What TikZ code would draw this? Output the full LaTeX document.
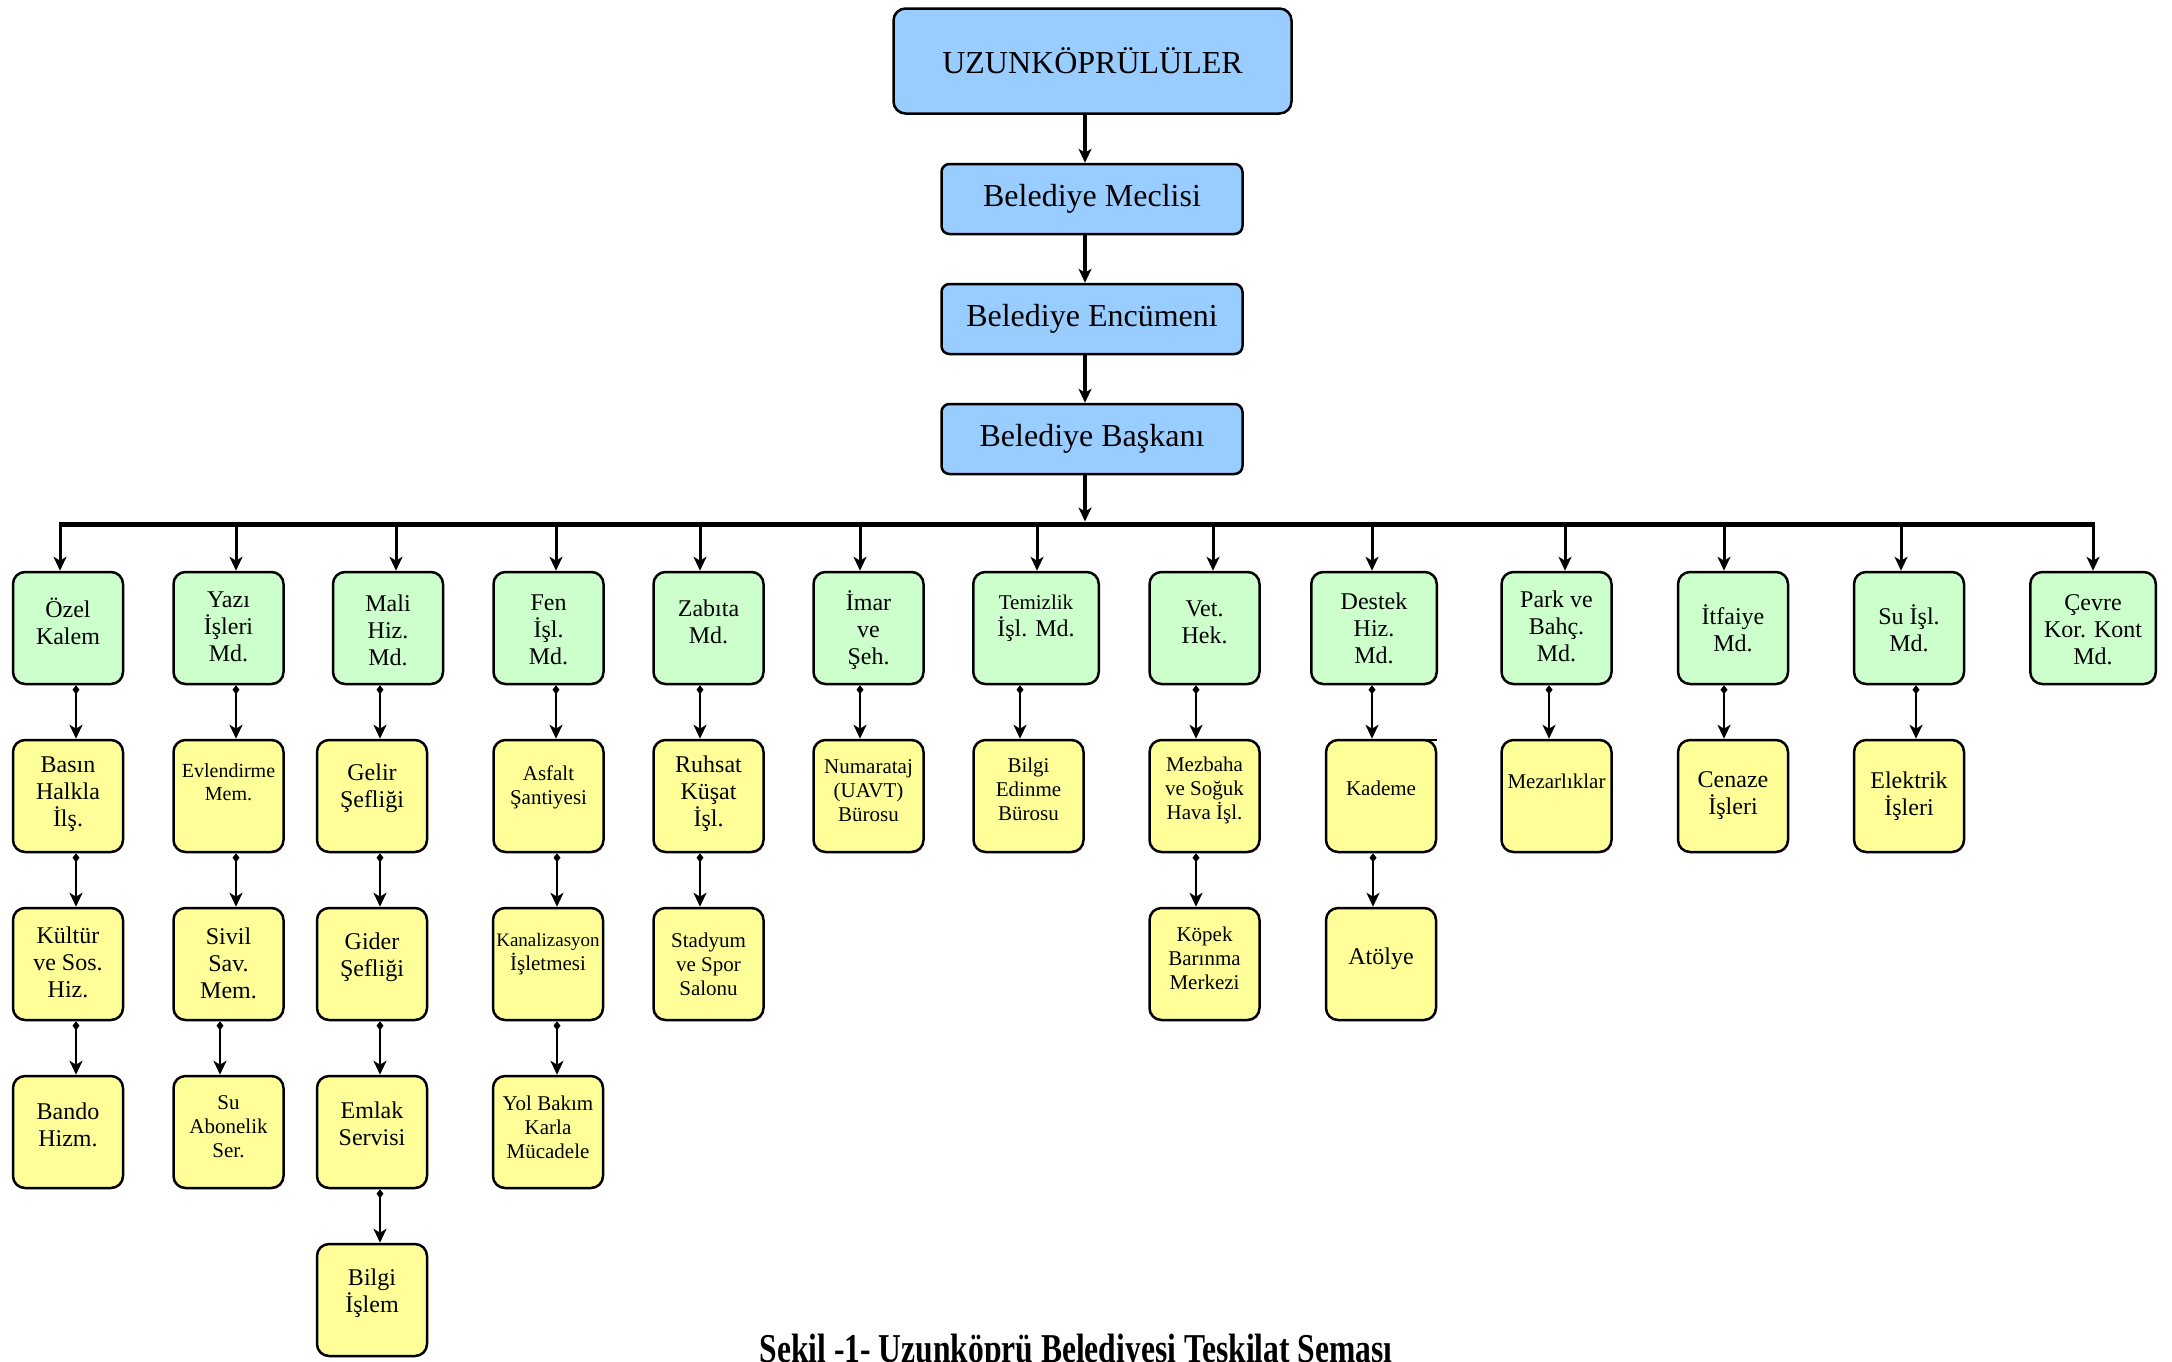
\documentclass[tikz,border=0pt]{standalone}
\usepackage{fontspec}
\setmainfont{Liberation Serif}
\newfontfamily\capfont[FakeStretch=0.77]{Liberation Serif}
\usetikzlibrary{arrows.meta}
\definecolor{bcol}{RGB}{153,204,255}
\definecolor{gcol}{RGB}{204,255,204}
\definecolor{ycol}{RGB}{255,255,153}
\newcommand\fsA{\fontsize{12}{13.5}\selectfont}
\newcommand\fsB{\fontsize{10.5}{12}\selectfont}
\newcommand\fsC{\fontsize{10}{11.5}\selectfont}
\newcommand\fsD{\fontsize{9.5}{12.5}\selectfont}
\newcommand\fsT{\fontsize{16}{19}\selectfont}
\newcommand\ob[6]{\node[#1] (#2) at (#3) {}; \node[lbl,font=#5] (#2t) at ([yshift=#4pt]#2.center) {#6};}
\begin{document}
\begin{tikzpicture}[x=0.5pt,y=-0.5pt,
  box/.style={draw=black, line width=1.25pt, rounded corners=6pt, minimum width=55pt, minimum height=56pt, inner sep=0pt},
  grn/.style={box, fill=gcol},
  yel/.style={box, fill=ycol},
  wgrn/.style={grn, minimum width=62.75pt},
  blu/.style={draw=black, line width=1.25pt, fill=bcol, rounded corners=4pt, minimum width=150.5pt, minimum height=35pt, inner sep=0pt},
  ttl/.style={blu, rounded corners=6pt, minimum width=199pt, minimum height=52.5pt},
  lbl/.style={align=center, inner sep=0pt},
  barln/.style={line width=2.5pt},
  br/.style={line width=1.5pt, -{Stealth[length=7pt,width=6.5pt,inset=2pt]}},
  mn/.style={line width=1.6pt, -{Stealth[length=7pt,width=6.5pt,inset=2pt]}},
  sub/.style={line width=1.4pt, {Diamond[length=4.5pt,width=3.5pt,line width=0pt]}-{Stealth[length=7pt,width=6.5pt,inset=2pt]}}
]
\useasboundingbox (0,0) rectangle (2172,1361);

% top chain
\ob{ttl}{uzun}{1092.5,61}{0}{\fsT}{UZUNKÖPRÜLÜLER}
\ob{blu}{meclis}{1092,199}{0}{\fsT}{Belediye Meclisi}
\ob{blu}{encumen}{1092,319}{0}{\fsT}{Belediye Encümeni}
\ob{blu}{baskan}{1092,439}{0}{\fsT}{Belediye Başkanı}

\coordinate (km) at (1085,524);
\draw[mn] (uzun.south -| km) -- (meclis.north -| km);
\draw[mn] (meclis.south -| km) -- (encumen.north -| km);
\draw[mn] (encumen.south -| km) -- (baskan.north -| km);
\draw[mn] (baskan.south -| km) -- ([yshift=1.25pt]km);

% level 1
\ob{grn}{ozel}{68,628}{3.5}{\fsA}{Özel\\Kalem}
\ob{grn}{yazi}{228.5,628}{0.5}{\fsA}{Yazı\\İşleri\\Md.}
\ob{grn}{mali}{388,628}{-1}{\fsA}{Mali\\Hiz.\\Md.}
\ob{grn}{fen}{548.5,628}{-1}{\fsA}{Fen\\İşl.\\Md.}
\ob{grn}{zabita}{708.5,628}{3}{\fsA}{Zabıta\\Md.}
\ob{grn}{imar}{868.5,628}{-1}{\fsA}{İmar\\ve\\Şeh.}
\ob{wgrn}{temiz}{1036,628}{5}{\fsA}{{\fsB Temizlik}\\İşl. Md.}
\ob{grn}{vet}{1204.5,628}{3}{\fsA}{Vet.\\Hek.}
\ob{wgrn}{destek}{1374,628}{0}{\fsA}{Destek\\Hiz.\\Md.}
\ob{grn}{park}{1556.5,628}{1}{\fsA}{Park ve\\Bahç.\\Md.}
\ob{grn}{itfaiye}{1733,628}{0}{\fsA}{İtfaiye\\Md.}
\ob{grn}{suisl}{1909,628}{0}{\fsA}{Su İşl.\\Md.}
\ob{wgrn}{cevre}{2093,628}{-1}{\fsA}{Çevre\\Kor. Kont\\Md.}

% level 2
\ob{yel}{basin}{68,796}{1}{\fsA}{Basın\\Halkla\\İlş.}
\ob{yel}{evlen}{228.5,796}{7}{\fsC}{Evlendirme\\Mem.}
\ob{yel}{gelir}{372,796}{4}{\fsA}{Gelir\\Şefliği}
\ob{yel}{asfalt}{548.5,796}{4.5}{\fsB}{Asfalt\\Şantiyesi}
\ob{yel}{ruhsat}{708.5,796}{1}{\fsA}{Ruhsat\\Küşat\\İşl.}
\ob{yel}{numara}{868.5,796}{2.5}{\fsB}{Numarataj\\(UAVT)\\Bürosu}
\ob{yel}{bilgied}{1028.5,796}{3.5}{\fsB}{Bilgi\\Edinme\\Bürosu}
\ob{yel}{mezbaha}{1204.5,796}{3}{\fsB}{Mezbaha\\ve Soğuk\\Hava İşl.}
\ob{yel}{kademe}{1381,796}{4}{\fsB}{Kademe}
\ob{yel}{mezar}{1556.5,796}{7.5}{\fsB}{Mezarlıklar}
\ob{yel}{cenaze}{1733,796}{0}{\fsA}{Cenaze\\İşleri}
\ob{yel}{elektrik}{1909,796}{0}{\fsA}{Elektrik\\İşleri}
\draw[line width=1.25pt] ([xshift=3.5pt,yshift=-0.625pt]kademe.north) -- ([yshift=-0.625pt]kademe.north east);

% level 3
\ob{yel}{kultur}{68,964}{1}{\fsA}{Kültür\\ve Sos.\\Hiz.}
\ob{yel}{sivil}{228.5,964}{0.5}{\fsA}{Sivil\\Sav.\\Mem.}
\ob{yel}{gider}{372,964}{3.5}{\fsA}{Gider\\Şefliği}
\ob{yel}{kanal}{548,964}{5}{\fsB}{{\fsD Kanalizasyon}\\İşletmesi}
\ob{yel}{stadyum}{708.5,964}{0}{\fsB}{Stadyum\\ve Spor\\Salonu}
\ob{yel}{kopek}{1204.5,964}{3}{\fsB}{Köpek\\Barınma\\Merkezi}
\ob{yel}{atolye}{1381,964}{2.5}{\fsA}{Atölye}

% level 4
\ob{yel}{bando}{68,1132}{3.5}{\fsA}{Bando\\Hizm.}
\ob{yel}{suabone}{228.5,1132}{2.5}{\fsB}{Su\\Abonelik\\Ser.}
\ob{yel}{emlak}{372,1132}{4}{\fsA}{Emlak\\Servisi}
\ob{yel}{yol}{548,1132}{2.5}{\fsB}{Yol Bakım\\Karla\\Mücadele}

% level 5
\ob{yel}{bilgiis}{372,1300}{3.5}{\fsA}{Bilgi\\İşlem}

% bar and branches
\coordinate (k1) at (60,524);
\coordinate (k2) at (236,524);
\coordinate (k3) at (396,524);
\coordinate (k4) at (556,524);
\coordinate (k5) at (700,524);
\coordinate (k6) at (860,524);
\coordinate (k7) at (1037,524);
\coordinate (k8) at (1213,524);
\coordinate (k9) at (1372,524);
\coordinate (k10) at (1565,524);
\coordinate (k11) at (1724,524);
\coordinate (k12) at (1901,524);
\coordinate (k13) at (2093,524);
\draw[barln] ([xshift=-0.75pt]k1) -- ([xshift=0.75pt]k13);
\draw[br] (k1) -- (k1 |- ozel.north);
\draw[br] (k2) -- (k2 |- yazi.north);
\draw[br] (k3) -- (k3 |- mali.north);
\draw[br] (k4) -- (k4 |- fen.north);
\draw[br] (k5) -- (k5 |- zabita.north);
\draw[br] (k6) -- (k6 |- imar.north);
\draw[br] (k7) -- (k7 |- temiz.north);
\draw[br] (k8) -- (k8 |- vet.north);
\draw[br] (k9) -- (k9 |- destek.north);
\draw[br] (k10) -- (k10 |- park.north);
\draw[br] (k11) -- (k11 |- itfaiye.north);
\draw[br] (k12) -- (k12 |- suisl.north);
\draw[br] (k13) -- (k13 |- cevre.north);

% sub connectors
\draw[sub] ([xshift=4pt]ozel.south) -- ([xshift=4pt]basin.north);
\draw[sub] ([xshift=4pt]basin.south) -- ([xshift=4pt]kultur.north);
\draw[sub] ([xshift=4pt]kultur.south) -- ([xshift=4pt]bando.north);
\draw[sub] ([xshift=3.75pt]yazi.south) -- ([xshift=3.75pt]evlen.north);
\draw[sub] ([xshift=3.75pt]evlen.south) -- ([xshift=3.75pt]sivil.north);
\draw[sub] ([xshift=-4.25pt]sivil.south) -- ([xshift=-4.25pt]suabone.north);
\draw[sub] ([xshift=-4pt]mali.south) -- ([xshift=4pt]gelir.north);
\draw[sub] ([xshift=4pt]gelir.south) -- ([xshift=4pt]gider.north);
\draw[sub] ([xshift=4pt]gider.south) -- ([xshift=4pt]emlak.north);
\draw[sub] ([xshift=4pt]emlak.south) -- ([xshift=4pt]bilgiis.north);
\draw[sub] ([xshift=3.75pt]fen.south) -- ([xshift=3.75pt]asfalt.north);
\draw[sub] ([xshift=4.25pt]asfalt.south) -- ([xshift=4.5pt]kanal.north);
\draw[sub] ([xshift=4.5pt]kanal.south) -- ([xshift=4.5pt]yol.north);
\draw[sub] ([xshift=-4.25pt]zabita.south) -- ([xshift=-4.25pt]ruhsat.north);
\draw[sub] ([xshift=-4.25pt]ruhsat.south) -- ([xshift=-4.25pt]stadyum.north);
\draw[sub] ([xshift=-4.25pt]imar.south) -- ([xshift=-4.25pt]numara.north);
\draw[sub] ([xshift=-8pt]temiz.south) -- ([xshift=-4.25pt]bilgied.north);
\draw[sub] ([xshift=-4.25pt]vet.south) -- ([xshift=-4.25pt]mezbaha.north);
\draw[sub] ([xshift=-4.25pt]mezbaha.south) -- ([xshift=-4.25pt]kopek.north);
\draw[sub] ([xshift=-1pt]destek.south) -- ([xshift=-4.5pt]kademe.north);
\draw[sub] ([xshift=-4pt]kademe.south) -- ([xshift=-4pt]atolye.north);
\draw[sub] ([xshift=-3.75pt]park.south) -- ([xshift=-3.75pt]mezar.north);
\draw[sub] ([xshift=-4.5pt]itfaiye.south) -- ([xshift=-4.5pt]cenaze.north);
\draw[sub] ([xshift=3.5pt]suisl.south) -- ([xshift=3.5pt]elektrik.north);

% caption (its lower part falls outside the page, as in the reference)
\node[anchor=base, inner sep=0pt, font=\capfont\bfseries\fontsize{20.5}{20.5}\selectfont] (cap) at (1076,1362) {Şekil -1- Uzunköprü Belediyesi Teşkilat Şeması};
\end{tikzpicture}
\end{document}
